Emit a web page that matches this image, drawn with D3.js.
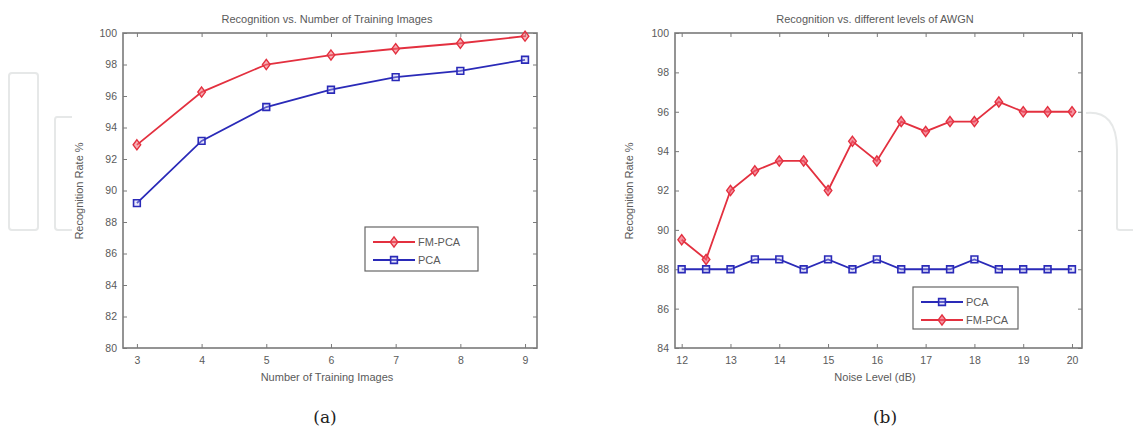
<!DOCTYPE html>
<html>
<head>
<meta charset="utf-8">
<script src="https://cdn.jsdelivr.net/npm/d3@7"></script>
<style>
  html, body { margin: 0; padding: 0; background: #fff; }
  svg { display: block; }
</style>
</head>
<body>
<svg id="chart" width="1133" height="430"></svg>
<script>
// ---------- data ----------
const trainImages = [3, 4, 5, 6, 7, 8, 9];
const fmpcaA = [92.9, 96.25, 98.0, 98.6, 99.0, 99.35, 99.8];
const pcaA   = [89.2, 93.15, 95.3, 96.4, 97.2, 97.6, 98.3];
const ticksAX = [3, 4, 5, 6, 7, 8, 9];
const ticksAY = [80, 82, 84, 86, 88, 90, 92, 94, 96, 98, 100];

const noiseLevels = [12, 12.5, 13, 13.5, 14, 14.5, 15, 15.5, 16, 16.5, 17, 17.5, 18, 18.5, 19, 19.5, 20];
const pcaB   = [88, 88, 88, 88.5, 88.5, 88, 88.5, 88, 88.5, 88, 88, 88, 88.5, 88, 88, 88, 88];
const fmpcaB = [89.5, 88.5, 92, 93, 93.5, 93.5, 92, 94.5, 93.5, 95.5, 95, 95.5, 95.5, 96.5, 96, 96, 96];
const ticksBX = [12, 13, 14, 15, 16, 17, 18, 19, 20];
const ticksBY = [84, 86, 88, 90, 92, 94, 96, 98, 100];

const RED = "#e3303f", BLUE = "#2a2ab8";
const AXIS = "#7a7a7a", TXT = "#5a5a5a";
const SANS = "'Liberation Sans', Arial, sans-serif";
const SERIF = "'DejaVu Serif', 'Liberation Serif', serif";

const svg = d3.select("#chart").style("font-family", SANS);

// ---------- faint watermark pieces ----------
const wm = svg.append("g").attr("fill", "none").attr("stroke", "#e6e8e8").attr("stroke-width", 2);
wm.append("rect").attr("x", 9).attr("y", 73).attr("width", 29).attr("height", 157).attr("rx", 3);
wm.append("path").attr("d", "M72,117 L57,117 Q55,117 55,120 L55,227 Q55,230 58,230 L72,230");
wm.append("path").attr("d", "M1086,113 Q1117,110 1117,150 L1117,228 Q1117,230 1120,230 L1133,230");

function drawPanel(cfg) {
  const g = svg.append("g");
  const x = d3.scaleLinear().domain(cfg.xDomain).range([cfg.left, cfg.right]);
  const y = d3.scaleLinear().domain(cfg.yDomain).range([cfg.bottom, cfg.top]);
  const tl = 4;

  // box
  g.append("rect").attr("x", cfg.left).attr("y", cfg.top)
    .attr("width", cfg.right - cfg.left).attr("height", cfg.bottom - cfg.top)
    .attr("fill", "#fff").attr("stroke", AXIS).attr("stroke-width", 1.6);

  // axes (ticks inward, labels via d3 axes)
  const xb = g.append("g").attr("transform", `translate(0,${cfg.bottom})`)
    .call(d3.axisBottom(x).tickValues(cfg.xTicks).tickFormat(d3.format("d"))
      .tickSizeInner(-tl).tickSizeOuter(0).tickPadding(9));
  const xt = g.append("g").attr("transform", `translate(0,${cfg.top})`)
    .call(d3.axisTop(x).tickValues(cfg.xTicks).tickSizeInner(-tl).tickSizeOuter(0).tickFormat(""));
  const yl = g.append("g").attr("transform", `translate(${cfg.left},0)`)
    .call(d3.axisLeft(y).tickValues(cfg.yTicks).tickFormat(d3.format("d"))
      .tickSizeInner(-tl).tickSizeOuter(0).tickPadding(6));
  const yr = g.append("g").attr("transform", `translate(${cfg.right},0)`)
    .call(d3.axisRight(y).tickValues(cfg.yTicks).tickSizeInner(-tl).tickSizeOuter(0).tickFormat(""));
  [xb, xt, yl, yr].forEach(a => {
    a.attr("font-family", SANS);
    a.select(".domain").remove();
    a.selectAll(".tick line").attr("stroke", AXIS).attr("stroke-width", 1);
    a.selectAll(".tick text").attr("fill", TXT).attr("font-size", 10.5);
  });

  // series
  const line = (xs, ys) => d3.line().x((d, i) => x(xs[i])).y(d => y(d))(ys);
  cfg.series.forEach(s => {
    g.append("path").attr("d", line(cfg.xs, s.values)).attr("fill", "none")
      .attr("stroke", s.color).attr("stroke-width", 1.8);
    const sym = d3.symbol().type(s.marker === "diamond" ? d3.symbolDiamond2 : d3.symbolSquare2)
      .size(s.marker === "diamond" ? 66 : 58);
    g.selectAll(null).data(s.values).enter().append("path")
      .attr("d", sym)
      .attr("transform", (d, i) => `translate(${x(cfg.xs[i])},${y(d)})${s.marker === "diamond" ? " scale(0.75,1)" : ""}`)
      .attr("fill", s.fill).attr("stroke", s.color).attr("stroke-width", 1.6);
  });

  // title and labels
  g.append("text").attr("x", cfg.titleX).attr("y", 23).attr("text-anchor", "middle")
    .attr("font-size", 11).attr("fill", TXT).text(cfg.title);
  g.append("text").attr("x", cfg.titleX).attr("y", 381).attr("text-anchor", "middle")
    .attr("font-size", 11).attr("fill", TXT).text(cfg.xLabel);
  g.append("text").attr("transform", `translate(${cfg.yLabelX},191) rotate(-90)`)
    .attr("text-anchor", "middle").attr("font-size", 11).attr("fill", TXT).text("Recognition Rate %");
  g.append("text").attr("x", cfg.capX).attr("y", 423).attr("text-anchor", "middle")
    .attr("font-family", SERIF).attr("font-size", 17)
    .attr("fill", "#222").text(cfg.caption);

  // legend
  const L = cfg.legend;
  g.append("rect").attr("x", L.x).attr("y", L.y).attr("width", L.w).attr("height", L.h)
    .attr("fill", "#fff").attr("stroke", "#666").attr("stroke-width", 1.2);
  L.items.forEach((s, i) => {
    const yy = L.y + 15 + i * 18;
    g.append("line").attr("x1", L.x + 8).attr("x2", L.x + 50).attr("y1", yy).attr("y2", yy)
      .attr("stroke", s.color).attr("stroke-width", 1.8);
    const sym = d3.symbol().type(s.marker === "diamond" ? d3.symbolDiamond2 : d3.symbolSquare2)
      .size(s.marker === "diamond" ? 66 : 58);
    g.append("path").attr("d", sym)
      .attr("transform", `translate(${L.x + 29},${yy})${s.marker === "diamond" ? " scale(0.75,1)" : ""}`)
      .attr("fill", s.fill).attr("stroke", s.color).attr("stroke-width", 1.6);
    g.append("text").attr("x", L.x + 53).attr("y", yy + 4).attr("font-size", 11)
      .attr("fill", TXT).text(s.name);
  });
}

const fmA = { name: "FM-PCA", values: fmpcaA, color: RED, fill: "rgba(240,110,120,0.55)", marker: "diamond" };
const pA  = { name: "PCA", values: pcaA, color: BLUE, fill: "rgba(190,190,240,0.35)", marker: "square" };
drawPanel({
  left: 123, right: 537, top: 33, bottom: 348,
  xDomain: [2.785, 9.185], yDomain: [80, 100],
  xTicks: ticksAX, yTicks: ticksAY, xs: trainImages,
  series: [fmA, pA],
  title: "Recognition vs. Number of Training Images",
  xLabel: "Number of Training Images",
  titleX: 327, yLabelX: 83, capX: 325, caption: "(a)",
  legend: { x: 365, y: 227, w: 113, h: 44, items: [fmA, pA] }
});

const pB  = { name: "PCA", values: pcaB, color: BLUE, fill: "rgba(190,190,240,0.35)", marker: "square" };
const fmB = { name: "FM-PCA", values: fmpcaB, color: RED, fill: "rgba(240,90,110,0.65)", marker: "diamond" };
drawPanel({
  left: 675, right: 1082, top: 33, bottom: 348,
  xDomain: [11.863, 20.205], yDomain: [84, 100],
  xTicks: ticksBX, yTicks: ticksBY, xs: noiseLevels,
  series: [pB, fmB],
  title: "Recognition vs. different levels of AWGN",
  xLabel: "Noise Level (dB)",
  titleX: 875, yLabelX: 633, capX: 885, caption: "(b)",
  legend: { x: 913, y: 287, w: 105, h: 42, items: [pB, fmB] }
});
</script>
</body>
</html>
